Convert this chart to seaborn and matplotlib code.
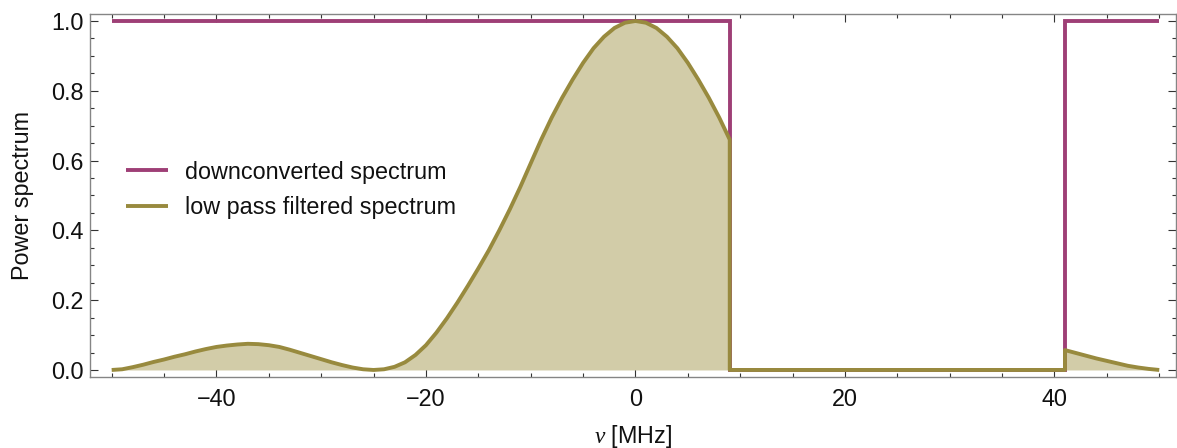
import matplotlib
matplotlib.use("Agg")
import matplotlib.pyplot as plt
from matplotlib.ticker import MultipleLocator, FormatStrFormatter
import seaborn as sns

# ---------------- data ----------------
# frequency grid of the lower pass band (MHz) and filtered power there
nu_low = list(range(-50, 10))
power_low = [
    0.000, 0.002, 0.008, 0.015, 0.023, 0.030, 0.038, 0.045, 0.053, 0.060,   # -50 .. -41
    0.066, 0.070, 0.073, 0.075, 0.074, 0.071, 0.066, 0.058, 0.049, 0.040,   # -40 .. -31
    0.031, 0.022, 0.014, 0.007, 0.002, 0.000, 0.002, 0.009, 0.022, 0.043,   # -30 .. -21
    0.071, 0.107, 0.148, 0.193, 0.241, 0.291, 0.343, 0.400, 0.460, 0.524,   # -20 .. -11
    0.592, 0.660, 0.723, 0.780, 0.832, 0.880, 0.922, 0.955, 0.980, 0.995,   # -10 .. -1
    1.000, 0.995, 0.980, 0.955, 0.922, 0.880, 0.832, 0.780, 0.723, 0.660,   #   0 .. 9
]
# upper pass band
nu_high = list(range(41, 51))
power_high = [0.057, 0.049, 0.041, 0.033, 0.026, 0.019, 0.012, 0.007, 0.003, 0.000]

# band edges of the downconverted spectrum
band_edge_low = 9
band_edge_high = 41

# downconverted (rectangular) spectrum
down_nu = [-50, band_edge_low, band_edge_low, band_edge_high, band_edge_high, 50]
down_power = [1, 1, 0, 0, 1, 1]

# low pass filtered spectrum (with the jumps at the band edges)
filt_nu = nu_low + [band_edge_low, band_edge_high] + nu_high
filt_power = power_low + [0.0, 0.0] + power_high

labels = ["downconverted spectrum", "low pass filtered spectrum"]

# ---------------- style ----------------
sns.set_theme(style="ticks")
plt.rcParams["font.family"] = ["Liberation Sans", "DejaVu Sans"]
plt.rcParams["mathtext.fontset"] = "custom"
plt.rcParams["mathtext.rm"] = "Liberation Sans"
plt.rcParams["mathtext.it"] = "Liberation Serif:italic"

purple = "#9E3F76"
olive = "#988A3E"
fill_col = "#D2CCA8"
FS = 16.8

W, H = 1177, 448
fig = plt.figure(figsize=(W / 100, H / 100), dpi=100)
ax = fig.add_axes([90 / W, 1 - 377.3 / H, 1086 / W, 363.3 / H])

ax.fill_between(filt_nu, filt_power, 0, color=fill_col, linewidth=0, zorder=1)
sns.lineplot(x=down_nu, y=down_power, sort=False, estimator=None, ax=ax,
             color=purple, linewidth=2.8, label=labels[0], zorder=2,
             solid_joinstyle="miter", solid_capstyle="butt")
sns.lineplot(x=filt_nu, y=filt_power, sort=False, estimator=None, ax=ax,
             color=olive, linewidth=2.8, label=labels[1], zorder=3,
             solid_joinstyle="round", solid_capstyle="butt")

ax.set_xlim(-52.07, 51.6)
ax.set_ylim(-0.021, 1.02)

ax.xaxis.set_major_locator(MultipleLocator(20))
ax.xaxis.set_minor_locator(MultipleLocator(5))
ax.yaxis.set_major_locator(MultipleLocator(0.2))
ax.yaxis.set_minor_locator(MultipleLocator(0.05))
ax.yaxis.set_major_formatter(FormatStrFormatter("%.1f"))

for s in ax.spines.values():
    s.set_visible(True)
    s.set_color("#858585")
    s.set_linewidth(1.0)

ax.tick_params(which="both", direction="in", top=True, right=True,
               color="#333333", labelcolor="#111111", width=0.8)
ax.tick_params(which="major", length=5.5, labelsize=FS)
ax.tick_params(which="minor", length=3)
ax.tick_params(axis="x", which="major", pad=7.5)
ax.tick_params(axis="y", which="major", pad=4.5)

ax.set_ylabel("Power spectrum", fontsize=FS, color="#111111")
ax.set_xlabel(r"$\nu$ [MHz]", fontsize=FS, color="#111111")
ax.yaxis.set_label_coords(-0.052, 0.5)
ax.xaxis.set_label_coords(0.5, -0.126)

leg = ax.legend(loc="center left", bbox_to_anchor=(0.0331, 0.5156),
                frameon=False, fontsize=FS, handlelength=1.8,
                handletextpad=0.72, labelspacing=0.55, borderpad=0,
                borderaxespad=0)
for t in leg.get_texts():
    t.set_color("#111111")

fig.savefig("out.png", dpi=100)
